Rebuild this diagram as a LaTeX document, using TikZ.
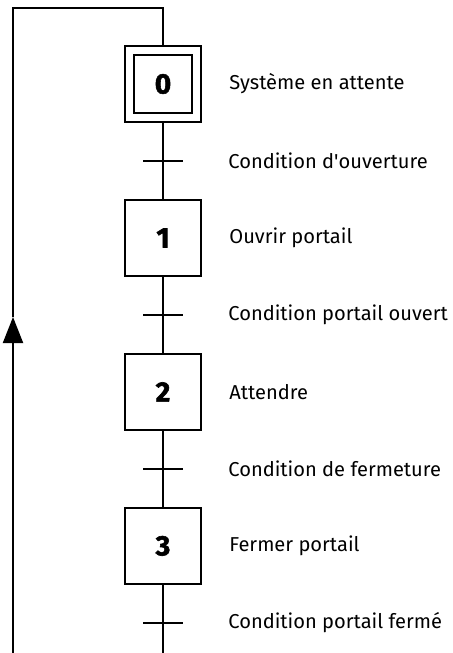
\documentclass[tikz,border=0pt]{standalone}
\usepackage{fontspec}
\setmainfont{Fira Sans}
\newfontfamily\chiffre[BoldFeatures={FakeBold=2}]{Fira Sans}
\usetikzlibrary{positioning,arrows.meta}
\begin{document}
\begin{tikzpicture}[line width=1.4pt,
  etape/.style={draw, minimum size=1.9cm, inner sep=0pt, font=\chiffre\fontsize{20}{24}\selectfont\bfseries},
  recept/.style={minimum width=1cm, minimum height=0pt, inner sep=0pt, outer sep=0pt},
  texte/.style={anchor=west, inner sep=0pt, font=\fontsize{14.3}{17}\selectfont}]
\useasboundingbox (0,0) rectangle (11.325,-16.325);
%Etapes
\node[etape] (e0) at (4.075,-2.1) {0};
\node[draw, minimum size=1.45cm] (e0i) at (e0) {};
\node[recept, below=0.95cm of e0] (t0) {};
\node[etape, below=1.9cm of e0] (e1) {1};
\node[recept, below=0.95cm of e1] (t1) {};
\node[etape, below=1.9cm of e1] (e2) {2};
\node[recept, below=0.95cm of e2] (t2) {};
\node[etape, below=1.9cm of e2] (e3) {3};
\node[recept, below=0.95cm of e3] (t3) {};
%Actions
\node[texte, right=0.66cm of e0] (a0) {Système en attente};
\node[texte, right=0.66cm of e1] (a1) {Ouvrir portail};
\node[texte, right=0.66cm of e2] (a2) {Attendre};
\node[texte, right=0.66cm of e3] (a3) {Fermer portail};
%Receptivites
\node[texte, right=1.11cm of t0] (r0) {Condition d\textquotesingle ouverture};
\node[texte, right=1.11cm of t1] (r1) {Condition portail ouvert};
\node[texte, right=1.11cm of t2] (r2) {Condition de fermeture};
\node[texte, right=1.11cm of t3] (r3) {Condition portail fermé};
%Liaisons
\draw (e0.south) -- (e1.north);
\draw (e1.south) -- (e2.north);
\draw (e2.south) -- (e3.north);
\coordinate (bg) at (0.325,-16.325);
\coordinate (hg) at (0.325,-0.21);
\coordinate (fl) at (0.325,-7.925);
\draw (e3.south) -- (e3 |- bg);
\foreach \t in {t0,t1,t2,t3}
  \draw (\t.west) -- (\t.east);
%Retour
\draw[-{Triangle[width=0.5cm,length=0.65cm]}] (bg) -- (fl);
\draw (fl) -- (hg) -| (e0.north);
\end{tikzpicture}
\end{document}
